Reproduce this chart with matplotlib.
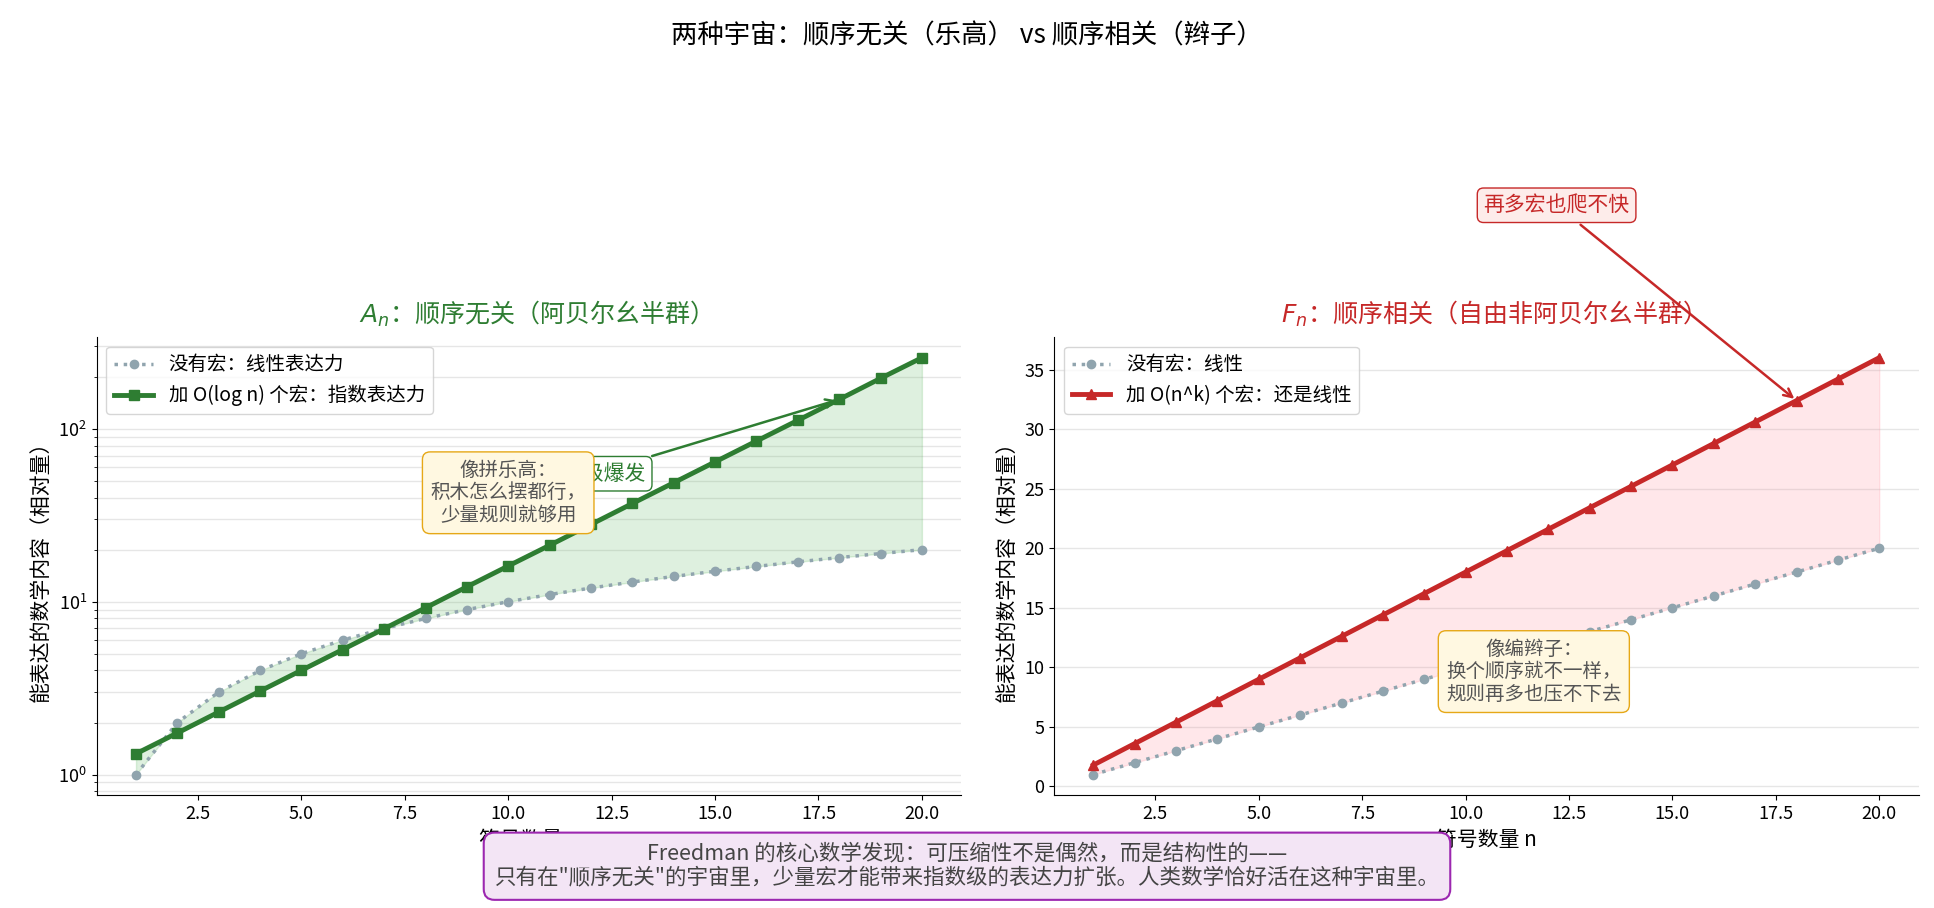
import matplotlib
matplotlib.use("Agg")
import matplotlib.pyplot as plt

plt.rcParams['font.family'] = ['Noto Sans CJK SC', 'DejaVu Sans']
plt.rcParams['axes.unicode_minus'] = False

n = list(range(1, 21))
no_macro = [1,2,3,4,5,6,7,8,9,10,11,12,13,14,15,16,17,18,19,20]
with_log = [1.32,1.74,2.30,3.04,4.01,5.29,6.98,9.22,12.2,16.1,21.2,28.0,37.0,48.8,64.4,85.0,112,148,196,258]
with_nk = [1.8,3.6,5.4,7.2,9.0,10.8,12.6,14.4,16.2,18.0,19.8,21.6,23.4,25.2,27.0,28.8,30.6,32.4,34.2,36.0]

green = '#2e7d32'; red = '#c62828'; grey = '#90a4ae'
fig = plt.figure(figsize=(19.34, 9.08), dpi=100)
ax1 = fig.add_axes([0.050, 0.124, 0.447, 0.505])
ax2 = fig.add_axes([0.545, 0.124, 0.447, 0.505])
fig.suptitle('两种宇宙：顺序无关（乐高） vs 顺序相关（辫子）', y=0.975, fontsize=19)

ax1.plot(n, no_macro, ':', color=grey, marker='o', lw=2.5, ms=6, label='没有宏：线性表达力')
ax1.plot(n, with_log, '-', color=green, marker='s', lw=3.5, ms=7, label='加 O(log n) 个宏：指数表达力')
ax1.fill_between(n, no_macro, with_log, color='#4caf50', alpha=0.18)
ax1.set_yscale('log')
ax1.set_title('$A_n$：顺序无关（阿贝尔幺半群）', color=green, fontsize=18, pad=10)
ax1.set_ylabel('能表达的数学内容（相对量）', fontsize=15)
ax1.set_xlabel('符号数量 n', fontsize=15)
ax1.legend(loc='upper left', fontsize=14)
ax1.annotate('指数级爆发', xy=(18, 148), xytext=(10.8, 55), color=green, fontsize=15,
             ha='left', va='center', arrowprops=dict(arrowstyle='->', color=green, lw=1.8),
             bbox=dict(boxstyle='round,pad=0.3', fc='white', ec=green))
ax1.text(0.476, 0.66, '像拼乐高：\n积木怎么摆都行，\n少量规则就够用', transform=ax1.transAxes, ha='center', va='center',
         fontsize=14, color='#555555', linespacing=1.1,
         bbox=dict(boxstyle='round,pad=0.4', fc='#fff8e1', ec='#e6a817'))

ax2.plot(n, no_macro, ':', color=grey, marker='o', lw=2.5, ms=6, label='没有宏：线性')
ax2.plot(n, with_nk, '-', color=red, marker='^', lw=3.5, ms=7, label='加 O(n^k) 个宏：还是线性')
ax2.fill_between(n, no_macro, with_nk, color='#ff8a9a', alpha=0.2)
ax2.set_title('$F_n$：顺序相关（自由非阿贝尔幺半群）', color=red, fontsize=18, pad=10)
ax2.set_ylabel('能表达的数学内容（相对量）', fontsize=15)
ax2.set_xlabel('符号数量 n', fontsize=15)
ax2.legend(loc='upper left', fontsize=14)
ax2.annotate('再多宏也爬不快', xy=(18, 32.4), xytext=(12.2, 48.8), color=red, fontsize=15,
             ha='center', va='center', arrowprops=dict(arrowstyle='->', color=red, lw=1.8),
             bbox=dict(boxstyle='round,pad=0.3', fc='#fdecea', ec=red), annotation_clip=False)
ax2.text(0.555, 0.27, '像编辫子：\n换个顺序就不一样，\n规则再多也压不下去', transform=ax2.transAxes, ha='center', va='center',
         fontsize=14, color='#555555', linespacing=1.1,
         bbox=dict(boxstyle='round,pad=0.4', fc='#fff8e1', ec='#e6a817'))

for ax in (ax1, ax2):
    ax.spines['top'].set_visible(False); ax.spines['right'].set_visible(False)
    ax.grid(True, axis='y', which='both', color='#e6e6e6', lw=1)
    ax.set_axisbelow(True)
    ax.tick_params(labelsize=13)
    ax.set_xticks([2.5, 5, 7.5, 10, 12.5, 15, 17.5, 20])
    ax.set_xticklabels(['2.5', '5.0', '7.5', '10.0', '12.5', '15.0', '17.5', '20.0'])

fig.text(0.5, 0.046, 'Freedman 的核心数学发现：可压缩性不是偶然，而是结构性的——\n只有在"顺序无关"的宇宙里，少量宏才能带来指数级的表达力扩张。人类数学恰好活在这种宇宙里。',
         ha='center', va='center', fontsize=15.5, color='#444444', linespacing=1.1,
         bbox=dict(boxstyle='round,pad=0.5', fc='#f3e5f5', ec='#9c27b0', lw=1.5), zorder=10)
fig.savefig('out.png', dpi=100)
